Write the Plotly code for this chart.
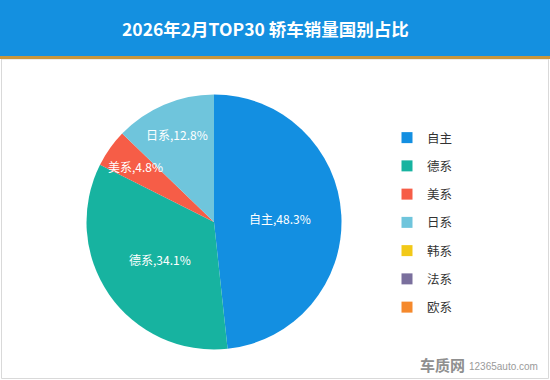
import math
import plotly.graph_objects as go

categories = ["自主", "德系", "美系", "日系", "韩系", "法系", "欧系"]
shares = [48.3, 34.1, 4.8, 12.8, 0, 0, 0]
colors = ["#138fe1", "#17b3a0", "#f65d47", "#6fc5dc", "#f2c918", "#7a6f9d", "#f5892c"]
title_text = "2026年2月TOP30 轿车销量国别占比"

W, H = 550, 380
CX, CY, R = 214, 222, 127.5  # pie centre / radius in pixels

fig = go.Figure()

fig.add_trace(go.Pie(
    labels=categories, values=shares, sort=False, direction="clockwise", rotation=0,
    marker=dict(colors=colors, line=dict(width=0)),
    textinfo="none",
    domain=dict(x=[(CX-R)/W, (CX+R)/W], y=[(H-CY-R)/H, (H-CY+R)/H]),
    showlegend=False, hoverinfo="label+percent",
))

for i, (c, col) in enumerate(zip(categories, colors)):
    fig.add_trace(go.Scatter(
        x=[None], y=[None], mode="markers", name=c, legendgroup=f"g{i}",
        marker=dict(symbol="square", size=11, color=col, line=dict(width=0)), showlegend=True,
    ))

shapes = [
    dict(type="rect", xref="paper", yref="paper", x0=1.5/W, x1=1-1.5/W, y0=1.5/H, y1=1-59/H,
         line=dict(color="#d9d9d9", width=1), fillcolor="rgba(0,0,0,0)", layer="below"),
    dict(type="rect", xref="paper", yref="paper", x0=0, x1=1, y0=1-56/H, y1=1,
         line=dict(width=0), fillcolor="#1490e0", layer="below"),
    dict(type="rect", xref="paper", yref="paper", x0=0, x1=1, y0=1-59/H, y1=1-56/H,
         line=dict(width=0), fillcolor="#c8963c", layer="below"),
]

annotations = [
    dict(text=title_text, xref="paper", yref="paper", x=265/W, y=1-28/H, showarrow=False,
         xanchor="center", yanchor="middle",
         font=dict(family="Noto Sans CJK SC", size=17.5, color="white", weight="bold")),
    dict(text="<b>车质网</b>", xref="paper", yref="paper", x=467/W, y=1-364/H, showarrow=False,
         xanchor="right", yanchor="middle",
         font=dict(family="Noto Sans CJK SC", size=15, color="#8f8f8f")),
    dict(text="12365auto.com", xref="paper", yref="paper", x=467/W, y=1-366/H, showarrow=False,
         xanchor="left", yanchor="middle",
         font=dict(family="Liberation Sans", size=10, color="#9a9a9a")),
]

# slice labels, placed from the data (clockwise from 12 o'clock)
total = sum(shares)
cum = 0.0
for c, v in zip(categories, shares):
    if v <= 0:
        continue
    mid = (cum + v / 2) / total
    cum += v
    ang = math.pi / 2 - 2 * math.pi * mid
    frac = 0.52 if v / total >= 0.2 else 0.75
    px = CX + frac * R * math.cos(ang)
    py = CY - frac * R * math.sin(ang)
    annotations.append(dict(
        text=f"{c},{v}%", xref="paper", yref="paper", x=px / W, y=1 - py / H,
        showarrow=False, xanchor="center", yanchor="middle",
        font=dict(family="Noto Sans CJK SC", size=12, color="white")))

fig.update_layout(
    width=W, height=H, margin=dict(l=0, r=0, t=0, b=0),
    paper_bgcolor="white", plot_bgcolor="white",
    shapes=shapes, annotations=annotations,
    xaxis=dict(visible=False), yaxis=dict(visible=False),
    legend=dict(x=387/W, y=1-123/H, xanchor="left", yanchor="top",
                font=dict(family="Noto Sans CJK SC", size=12.5, color="#333333"),
                tracegroupgap=9, itemwidth=30, bgcolor="rgba(0,0,0,0)"),
)

fig.write_html("out.html", config={"displayModeBar": False},
               post_script="document.body.style.margin='0';")
